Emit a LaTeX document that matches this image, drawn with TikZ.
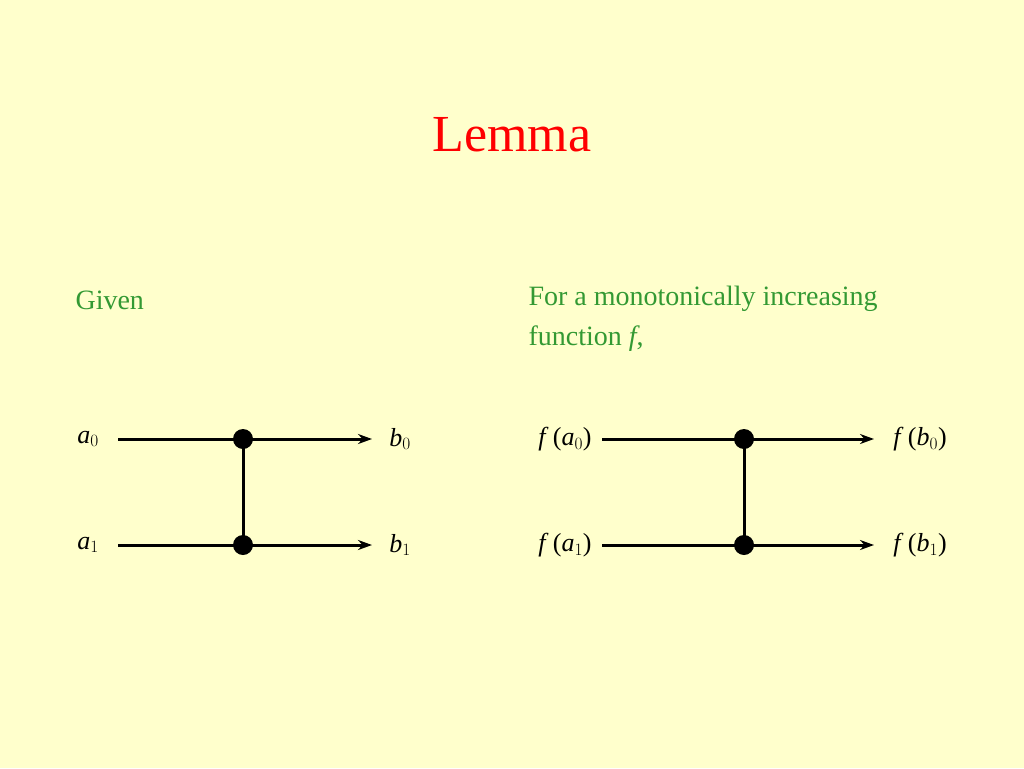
\documentclass[tikz,border=0pt]{standalone}
\usepackage{fontspec}
\setmainfont{Liberation Serif}
\usetikzlibrary{arrows.meta}
\definecolor{bg}{RGB}{255,255,204}
\definecolor{grn}{RGB}{51,153,51}
\tikzset{wire/.style={line width=3pt,-{Stealth[length=14pt,width=10pt]}},
 rung/.style={line width=3pt},
 dot/.style={circle,fill=black,inner sep=0pt,minimum size=20pt},
 lab/.style={font=\fontsize{26}{30}\selectfont},
 gtxt/.style={text=grn,font=\fontsize{28}{40}\selectfont,anchor=west,align=left}}
\newcommand{\ital}[1]{\textit{#1}}
\begin{document}
\begin{tikzpicture}[x=1pt,y=-1pt]
\fill[bg] (0,0) rectangle (1024,768);
\useasboundingbox (0,0) rectangle (1024,768);
\node[text=red,font=\fontsize{52}{60}\selectfont] (title) at (512,135) {Lemma};
\node[gtxt] (given) at (72,300) {Given};
\node[gtxt,anchor=north west] (for) at (525,283) {For a monotonically increasing\\function \ital{f},};
% left
\coordinate (l0s) at (118,439); \coordinate (l0e) at (372,439);
\coordinate (l1s) at (118,545); \coordinate (l1e) at (372,545);
\node[dot] (d0) at (243,439) {}; \node[dot] (d1) at (243,545) {};
\draw[wire] (l0s) -- (l0e); \draw[wire] (l1s) -- (l1e);
\draw[rung] (d0.center) -- (d1.center);
\node[lab] (a0) at (88,439) {\ital{a}$_{0}$};
\node[lab] (a1) at (88,545) {\ital{a}$_{1}$};
\node[lab] (b0) at (400,439) {\ital{b}$_{0}$};
\node[lab] (b1) at (400,545) {\ital{b}$_{1}$};
% right
\coordinate (r0s) at (602,439); \coordinate (r0e) at (874,439);
\coordinate (r1s) at (602,545); \coordinate (r1e) at (874,545);
\node[dot] (e0) at (744,439) {}; \node[dot] (e1) at (744,545) {};
\draw[wire] (r0s) -- (r0e); \draw[wire] (r1s) -- (r1e);
\draw[rung] (e0.center) -- (e1.center);
\node[lab] (fa0) at (565,439) {\ital{f}\,(\ital{a}$_{0}$)};
\node[lab] (fa1) at (565,545) {\ital{f}\,(\ital{a}$_{1}$)};
\node[lab] (fb0) at (920,439) {\ital{f}\,(\ital{b}$_{0}$)};
\node[lab] (fb1) at (920,545) {\ital{f}\,(\ital{b}$_{1}$)};
\end{tikzpicture}
\end{document}
